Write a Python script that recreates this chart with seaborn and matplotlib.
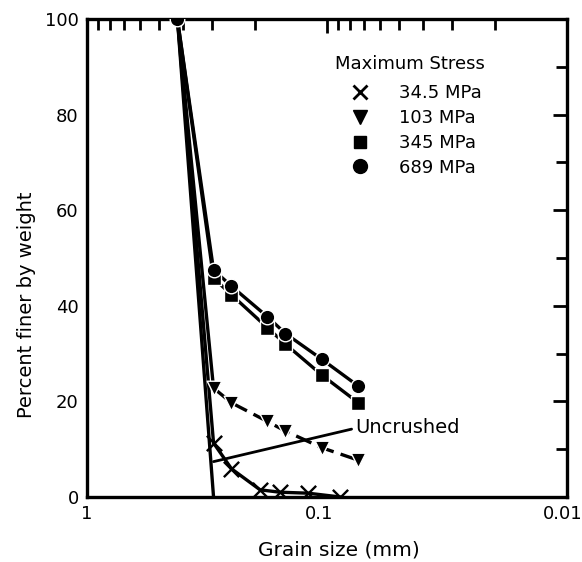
import matplotlib
matplotlib.use("Agg")
import matplotlib.pyplot as plt
import matplotlib.ticker as mticker
import matplotlib.transforms as mtransforms
from matplotlib.lines import Line2D
import seaborn as sns
import pandas as pd

sns.set_style("white")
plt.rcParams['font.family'] = ['DejaVu Sans']
plt.rcParams['text.color'] = 'black'
plt.rcParams['axes.labelcolor'] = 'black'
plt.rcParams['xtick.color'] = 'black'
plt.rcParams['ytick.color'] = 'black'

# ---- data ----
sizes = [0.42, 0.297, 0.25, 0.177, 0.149, 0.105, 0.074]
p689 = [100, 47.5, 44.1, 37.7, 34.2, 28.8, 23.2]
p345 = [100, 45.8, 42.3, 35.4, 32.0, 25.5, 19.7]
p103 = [100, 22.8, 19.7, 15.8, 13.8, 10.3, 7.7]
sizes_34_5 = [0.42, 0.297, 0.25, 0.19, 0.157, 0.12, 0.088]
p34_5 = [100, 11.3, 5.9, 1.5, 1.0, 0.8, 0.0]
uncrushed_x = [0.42, 0.297]
uncrushed_y = [100, 0]
labels = ["34.5 MPa", "103 MPa", "345 MPa", "689 MPa"]
xticks = [1, 0.1, 0.01]
xticklabels = ["1", "0.1", "0.01"]
yticks = [0, 20, 40, 60, 80, 100]

fig = plt.figure(figsize=(5.82, 5.62), dpi=100)
ax = fig.add_axes([87/582, 1-497/562, (567-87)/582, (497-19)/562])

series = [
    (sizes_34_5, p34_5, "x", False, 11),
    (sizes, p103, "v", True, 10),
    (sizes, p345, "s", False, 9),
    (sizes, p689, "o", False, 10),
]
lw = 2.4
for xs, ys, m, dashed, ms in series:
    df = pd.DataFrame({"x": xs, "y": ys})
    if dashed:
        # steep first segment drawn solid, remainder dashed
        sns.lineplot(data=df.iloc[:2], x="x", y="y", ax=ax, color="black", lw=lw,
                     legend=False, sort=False)
        rest = df.iloc[1:]
        sns.lineplot(data=rest, x="x", y="y", ax=ax, color="black", lw=lw,
                     dashes=[(5, 2.2)], style=[0]*len(rest), legend=False, sort=False)
    else:
        sns.lineplot(data=df, x="x", y="y", ax=ax, color="black", lw=lw,
                     legend=False, sort=False)
    dfm = df.iloc[1:] if m != "o" else df
    if m == "x":
        sns.scatterplot(data=dfm, x="x", y="y", ax=ax, marker="x", color="black",
                        s=ms**2, linewidth=1.7, legend=False, zorder=5)
    else:
        sns.scatterplot(data=dfm, x="x", y="y", ax=ax, marker=m, color="black",
                        edgecolor="white", s=ms**2 * 1.1, linewidth=1.0,
                        legend=False, zorder=5)

dfu = pd.DataFrame({"x": uncrushed_x, "y": uncrushed_y})
sns.lineplot(data=dfu, x="x", y="y", ax=ax, color="black", lw=lw, legend=False, sort=False)

# leader line for Uncrushed
ax.plot([0.297, 0.079], [7.4, 14.2], color="black", lw=2.0)
ax.text(0.076, 14.6, "Uncrushed", fontsize=14, va="center", ha="left")

ax.set_xscale("log")
ax.set_xlim(1, 0.01)
ax.set_ylim(0, 100)
ax.set_xticks(xticks)
ax.set_xticklabels(xticklabels)
ax.xaxis.set_minor_locator(mticker.LogLocator(base=10, subs=range(2, 10)))
ax.xaxis.set_minor_formatter(mticker.NullFormatter())
ax.set_yticks(yticks)
ax.yaxis.set_minor_locator(mticker.MultipleLocator(10))

ax.tick_params(axis="both", which="major", direction="in", length=10, width=2,
               labelsize=13, top=True, right=True, pad=6, colors="black")
ax.tick_params(axis="both", which="minor", direction="in", length=8, width=2,
               top=True, right=True, colors="black")
for sp in ax.spines.values():
    sp.set_linewidth(2.4)
    sp.set_color("black")

# nudge x tick labels to match the reference placement
offsets = [0, -8, -4]
for lab, dx in zip(ax.get_xticklabels(), offsets):
    lab.set_transform(lab.get_transform() +
                      mtransforms.ScaledTranslation(dx/100, 0, fig.dpi_scale_trans))

ax.set_xlabel("Grain size (mm)", fontsize=14.5)
ax.xaxis.set_label_coords((339-87)/480, (497-550)/478)
ax.xaxis.label.set_va("center")
ax.set_ylabel("Percent finer by weight", fontsize=14)
ax.yaxis.set_label_coords((27-87)/480, (497-305)/478)
ax.yaxis.label.set_va("center")

handles = [
    Line2D([], [], marker="x", color="black", ls="none", markersize=10, mew=2),
    Line2D([], [], marker="v", color="black", ls="none", markersize=10),
    Line2D([], [], marker="s", color="black", ls="none", markersize=9),
    Line2D([], [], marker="o", color="black", ls="none", markersize=10),
]
leg = ax.legend(handles, labels, title="Maximum Stress", loc="upper left",
                bbox_to_anchor=((335-87)/480, (497-55)/478), frameon=False,
                fontsize=13, title_fontsize=13, handlelength=2.8,
                handletextpad=0.75, labelspacing=0.38, borderaxespad=0,
                borderpad=0)
leg._legend_box.align = "left"
leg._legend_box.sep = 8

fig.savefig("out.png", dpi=100)
